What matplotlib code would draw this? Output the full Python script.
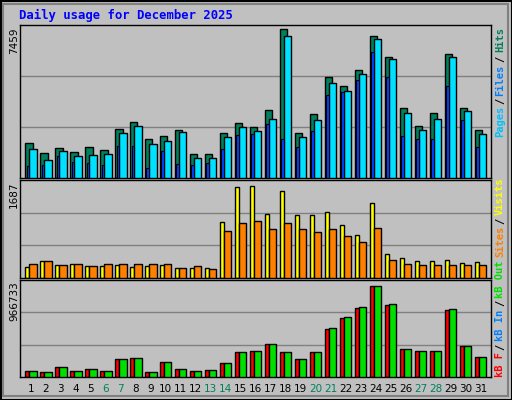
import matplotlib
matplotlib.use("Agg")
import matplotlib.pyplot as plt
from matplotlib.patches import Rectangle
import numpy as np

days = list(range(1, 32))
weekend = [6, 7, 13, 14, 20, 21, 27, 28]
hits = [1738,1232,1485,1283,1536,1384,2447,2802,1941,2093,2396,1181,1181,2244,2751,2548,3409,7459,2244,3206,5080,4624,5434,7105,6092,3510,2599,3257,6244,3510,2396]
files = [1434,928,1333,1080,1131,1181,2244,2599,1688,1839,2295,979,979,2042,2548,2346,2953,7105,2042,2903,4776,4371,5232,6953,5991,3257,2396,2953,6092,3358,2194]
pages = [624,675,1080,827,776,675,1586,1586,523,1333,726,675,776,1434,2143,2194,2700,1941,1536,2346,4168,4320,4928,6345,5080,2093,1941,1941,4624,2903,1536]
visits = [202,312,238,257,220,220,238,202,220,238,183,183,183,1027,1669,1687,1174,1595,1155,1155,1210,972,788,1375,440,367,312,312,330,275,293]
sites = [257,312,238,257,220,257,257,257,257,257,183,220,165,862,1008,1045,898,1008,898,843,898,770,660,917,330,257,238,238,238,238,238]
kb_out = [63700,53100,106200,63700,85000,63700,191200,201800,53100,159300,85000,63700,74400,148700,265600,276200,350600,265600,191200,265600,520500,637400,743600,966733,775500,297400,276200,276200,722300,329300,212400]
kb_f = [63000,52500,105000,63000,84000,63000,189000,199800,52500,157700,84100,63000,73600,147200,262900,273400,347100,262900,189300,262900,510000,627000,736000,966733,770000,294400,273400,273400,715000,326000,210300]

W, H = 512, 400
fig = plt.figure(figsize=(W/100, H/100), dpi=100, facecolor="#C0C0C0")

def ax_px(x0, y0, x1, y1):
    return fig.add_axes([x0/W, 1-y1/H, (x1-x0)/W, (y1-y0)/H])

XL = (0.266, 31.71)
def setup(ax, ymax):
    ax.set_facecolor("#C0C0C0")
    ax.set_xlim(*XL)
    ax.set_ylim(0, ymax)
    ax.set_xticks([]); ax.set_yticks([])
    for s in ax.spines.values():
        s.set_color("black"); s.set_linewidth(1)
    for f in (1/3, 2/3):
        ax.axhline(ymax*f, color="#808080", lw=1, zorder=0)

x = np.array(days)
ax1 = ax_px(20, 25, 491, 178)
ymax1 = max(hits) * 151.7/147.4
setup(ax1, ymax1)
ax1.bar(x-0.135, hits, width=0.49, color="#00805C", edgecolor="black", lw=1, zorder=2)
ax1.bar(x+0.135, files, width=0.49, color="#00E0FF", edgecolor="black", lw=1, zorder=3)
ax1.bar(x-0.2, pages, width=0.18, color="#0040FF", edgecolor="black", lw=0.8, zorder=4)

ax2 = ax_px(20, 180, 491, 278)
ymax2 = max(visits) * 98/92
setup(ax2, ymax2)
ax2.bar(x-0.245, visits, width=0.27, color="#FFFF00", edgecolor="black", lw=1, zorder=2)
ax2.bar(x+0.135, sites, width=0.49, color="#FF8000", edgecolor="black", lw=1, zorder=3)

ax3 = ax_px(20, 280, 491, 377)
ymax3 = max(kb_out) * 97/91
setup(ax3, ymax3)
ax3.bar(x-0.245, kb_f, width=0.27, color="#FF0000", edgecolor="black", lw=1, zorder=2)
ax3.bar(x+0.135, kb_out, width=0.49, color="#00E000", edgecolor="black", lw=1, zorder=3)

for d in days:
    xp = 20 + (d - XL[0]) / (XL[1]-XL[0]) * 471
    fig.text(xp/W, 1-389/H, str(d), ha="center", va="center", fontsize=7.5,
             family="DejaVu Sans", color="#00805C" if d in weekend else "black")

fig.text(19/W, 1-15/H, "Daily usage for December 2025", ha="left", va="center",
         fontsize=8.8, family="DejaVu Sans Mono", weight="bold", color="#0000FF")

for val, ytop in [("7459", 28), ("1687", 181), ("966733", 281)]:
    fig.text(14/W, 1-ytop/H, val, rotation=90, ha="center", va="top",
             fontsize=7.5, family="DejaVu Sans", color="black")

def rlabel(parts):
    for txt, yb, col in parts:
        fig.text(500/W, 1-yb/H, txt, rotation=90, ha="center", va="bottom",
                 fontsize=7.5, family="DejaVu Sans Mono", weight="bold", color=col)

rlabel([("Pages", 137, "#00C0FF"), ("/", 104, "black"), ("Files", 96, "#0080FF"),
        ("/", 62, "black"), ("Hits", 52, "#00805C")])
rlabel([("Sites", 257, "#FF8000"), ("/", 224, "black"), ("Visits", 215, "#FFFF00")])
rlabel([("kB F", 377, "#FF0000"), ("/", 350, "black"), ("kB In", 341, "#0080FF"),
        ("/", 306, "black"), ("kB Out", 298, "#00E000")])

fig.add_artist(Rectangle((0.5/W, 0.5/H), (W-1)/W, (H-1)/H, transform=fig.transFigure,
                         fill=False, edgecolor="black", lw=1.5))
fig.add_artist(Rectangle((3/W, 4/H), (W-7)/W, (H-8)/H, transform=fig.transFigure,
                         fill=False, edgecolor="#808080", lw=1.5))

fig.savefig("out.png", dpi=100, facecolor=fig.get_facecolor())
